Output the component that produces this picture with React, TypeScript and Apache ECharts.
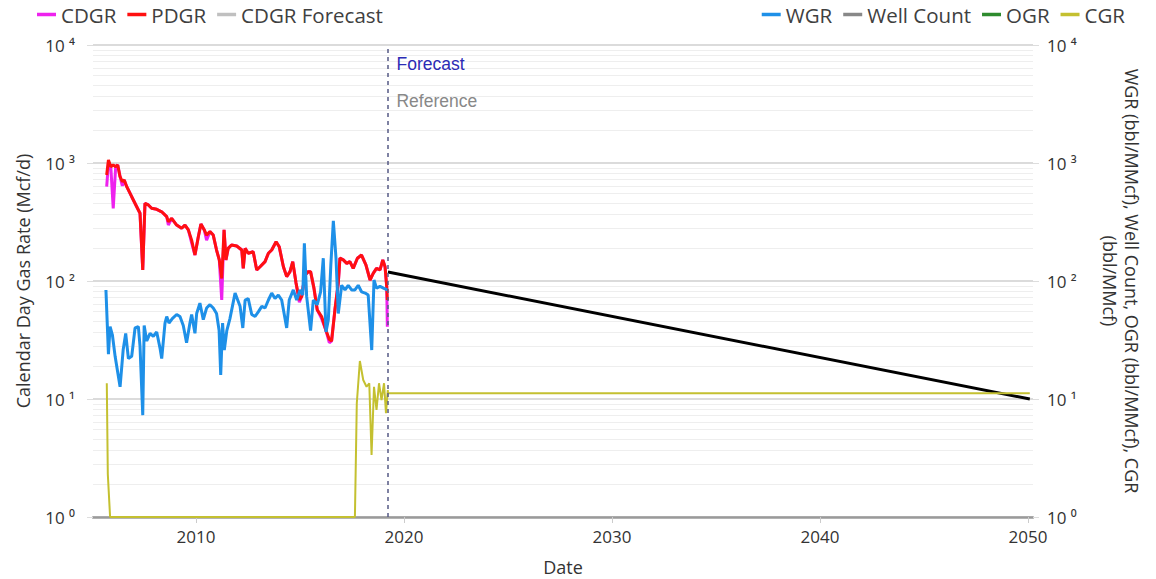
import React, { useEffect, useRef } from "react";
import * as echarts from "echarts";

// ---------- data ----------
const pdgrDates = [
  "2005-09-15","2005-10-16","2005-11-28","2006-01-08","2006-02-20","2006-03-28","2006-05-08","2006-06-17","2006-07-20","2006-09-02",
  "2006-11-28","2007-02-24","2007-04-23","2007-06-10","2007-07-19","2007-09-16","2007-11-13","2008-02-10","2008-05-08","2008-08-04",
  "2008-09-02","2008-10-30","2009-01-26","2009-04-23","2009-06-21","2009-08-19","2009-10-16","2009-12-13","2010-02-10","2010-03-28",
  "2010-05-26","2010-07-05","2010-09-02","2010-10-30","2010-12-27","2011-02-13","2011-03-28","2011-05-08","2011-06-10","2011-07-19",
  "2011-09-16","2011-12-16","2012-03-14","2012-04-09","2012-05-12","2012-07-05","2012-10-01","2012-12-02","2013-01-30","2013-04-27",
  "2013-06-25","2013-08-22","2013-11-07","2014-01-01","2014-03-15","2014-05-12","2014-07-09","2014-08-26","2014-10-23","2014-12-20",
  "2015-01-30","2015-03-28","2015-05-26","2015-07-05","2015-09-02","2015-10-30","2016-01-15","2016-04-01","2016-05-29","2016-07-08",
  "2016-09-05","2016-11-03","2016-12-02","2017-01-30","2017-04-01","2017-05-26","2017-07-23","2017-10-05","2017-12-16","2018-03-03",
  "2018-05-15","2018-07-09","2018-09-05","2018-11-06","2018-12-24","2019-02-02","2019-03-03","2019-03-14",
];
const pdgrValues = [
  791,1060,930,962,930,962,765,695,718,630,
  518,426,375,124,455,441,413,405,386,351,
  318,340,298,280,298,271,222,166,237,304,
  271,245,262,245,183,151,105,271,151,189,
  202,198,183,128,189,172,177,124,132,146,
  172,183,215,195,132,109,120,146,96,69,
  74,112,120,120,87,57,50,38,32,31,
  57,96,156,151,141,146,128,156,166,137,
  102,116,128,124,151,132,90,69,
];
const cdgrValues = [
  630,1000,900,413,930,962,765,640,718,630,
  518,426,375,124,455,441,413,405,386,351,
  298,340,298,280,298,271,210,166,237,304,
  271,222,262,245,183,151,69,271,151,189,
  202,198,183,128,189,172,177,124,132,146,
  172,183,215,195,132,109,120,146,96,66,
  74,112,120,120,87,57,48,38,30,31,
  57,96,156,151,141,146,128,156,166,137,
  102,116,128,124,151,132,90,41,
];

const wgrDates = [
  "2005-09-02","2005-10-16","2005-11-14","2005-12-24","2006-02-10","2006-05-08","2006-07-01","2006-08-15","2006-10-01","2006-11-28",
  "2007-01-26","2007-03-25","2007-04-23","2007-06-10","2007-07-05","2007-08-19","2007-10-16","2007-12-13","2008-02-10","2008-04-08",
  "2008-05-08","2008-07-05","2008-08-04","2008-09-13","2008-11-10","2009-01-26","2009-03-25","2009-05-22","2009-07-19","2009-09-16",
  "2009-10-16","2009-12-13","2010-01-12","2010-03-10","2010-05-08","2010-07-05","2010-09-02","2010-10-30","2010-12-27","2011-02-10",
  "2011-03-10","2011-04-12","2011-05-12","2011-06-25","2011-08-19","2011-11-17","2012-02-13","2012-04-01","2012-05-12","2012-07-05",
  "2012-09-05","2012-11-03","2013-01-01","2013-03-01","2013-04-27","2013-06-25","2013-08-22","2013-10-19","2013-12-16","2014-02-13",
  "2014-05-12","2014-06-25","2014-09-05","2014-11-03","2015-01-01","2015-02-18","2015-03-18","2015-04-27","2015-07-05","2015-08-22",
  "2015-10-30","2015-12-28","2016-02-13","2016-04-01","2016-05-12","2016-06-25","2016-08-08","2016-09-24","2016-11-03","2017-01-01",
  "2017-03-01","2017-04-27","2017-06-25","2017-08-22","2017-10-19","2017-12-16","2018-02-18","2018-04-12","2018-06-13","2018-07-23",
  "2018-09-05","2018-11-06","2019-01-04","2019-03-14",
];
const wgrValues = [
  84,24,41,35,23,12.7,26,36,22,23,
  40,41,28,7.3,42,31,36,34,37,27,
  22,44,50,44,48,52,50,42,30,44,
  52,36,53,65,47,59,63,59,53,38,
  16,44,26,38,48,79,61,40,69,71,
  52,50,55,61,59,69,79,71,76,69,
  40,69,84,69,84,76,209,74,38,69,
  63,81,156,37,47,137,324,156,53,92,
  84,92,84,84,92,81,79,76,26,102,
  87,90,87,84,
];

const cgrDates = [
  "2005-09-17","2005-10-05","2005-11-14","2017-08-22","2017-09-24","2017-11-17","2018-01-15","2018-03-14","2018-05-01","2018-06-10",
  "2018-07-23","2018-09-05","2018-10-19","2018-12-02","2019-01-15","2019-02-18","2019-03-22","2019-03-25","2050-02-01",
];
const cgrValues = [
  13.6,2.3,1,1,9.2,21,14.5,12.7,13.6,3.35,
  12.7,8.1,13.6,9.8,13.6,7.6,11.9,11.2,11.2,
];

const forecastDates = ["2019-03-25", "2050-02-01"];
const forecastValues = [119, 10];

const wellCountDates: string[] = [];
const wellCountValues: number[] = [];
const ogrDates: string[] = [];
const ogrValues: number[] = [];

const forecastStart = "2019-03-25";
const forecastLabelValue = 6900;
const referenceLabelValue = 3350;

const xMin = "2005-01-18";
const xMax = "2050-03-29";
const xTickYears = [2010, 2020, 2030, 2040, 2050];
const yMin = 1;
const yMax = 10000;

// ---------- helpers ----------
// date string -> decimal year (value axis)
const toYear = (s: string) => {
  const [y, m, d] = s.split("-").map(Number);
  const start = Date.UTC(y, 0, 1);
  const end = Date.UTC(y + 1, 0, 1);
  return y + (Date.UTC(y, m - 1, d) - start) / (end - start);
};
const pairs = (dates: string[], vals: number[]) => dates.map((d, i) => [toYear(d), vals[i]]);
const SUP = ["⁰", "¹", "²", "³", "⁴", "⁵"];
const logLabel = (v: number) => "10 " + SUP[Math.round(Math.log10(v))];

const FONT = "'Open Sans', 'Noto Sans', sans-serif";

export default function App() {
  const ref = useRef<HTMLDivElement>(null);

  useEffect(() => {
    document.body.style.margin = "0";
    if (!ref.current) return;
    const chart = echarts.init(ref.current, null, { renderer: "svg" });

    const yAxisCommon = {
      type: "log" as const,
      logBase: 10,
      min: yMin,
      max: yMax,
      axisLine: { show: false },
      axisTick: { show: true, length: 6, lineStyle: { color: "#dddddd" } },
      minorTick: { show: false, splitNumber: 10 },
      axisLabel: { formatter: logLabel, fontSize: 17, color: "#333", fontFamily: FONT },
      nameLocation: "middle" as const,
      nameTextStyle: { fontSize: 18, color: "#333", fontFamily: FONT, lineHeight: 22 },
    };

    const legendText = { fontSize: 20.5, color: "#404040", fontFamily: FONT };

    chart.setOption({
      animation: false,
      backgroundColor: "#ffffff",
      grid: { left: 93, right: 123, top: 45, bottom: 62, containLabel: false, outerBoundsMode: "none" },
      legend: [
        {
          left: 32,
          top: -1,
          icon: "rect",
          itemWidth: 19,
          itemHeight: 3.5,
          itemGap: 11,
          textStyle: legendText,
          data: [
            { name: "CDGR" },
            { name: "PDGR" },
            { name: "CDGR Forecast", itemStyle: { color: "#c0c0c0" } },
          ],
        },
        {
          right: 26,
          top: -1,
          icon: "rect",
          itemWidth: 19,
          itemHeight: 3.5,
          itemGap: 11,
          textStyle: legendText,
          data: [{ name: "WGR" }, { name: "Well Count" }, { name: "OGR" }, { name: "CGR" }],
        },
      ],
      xAxis: {
        type: "value",
        min: toYear(xMin),
        max: toYear(xMax),
        name: "Date",
        nameLocation: "middle",
        nameGap: 41,
        nameTextStyle: { fontSize: 18, color: "#333", fontFamily: FONT },
        axisLine: { show: true, onZero: false, lineStyle: { color: "#9a9a9a", width: 2.5 } },
        axisTick: { show: true, customValues: xTickYears, length: 6, lineStyle: { color: "#cccccc" } },
        axisLabel: {
          customValues: xTickYears,
          formatter: (v: number) => String(Math.round(v)),
          fontSize: 17,
          color: "#333",
          fontFamily: FONT,
          margin: 11,
        },
        splitLine: { show: false },
      },
      yAxis: [
        {
          ...yAxisCommon,
          position: "left",
          name: "Calendar Day Gas Rate (Mcf/d)",
          nameGap: 58,
          axisLabel: { ...yAxisCommon.axisLabel, margin: 18 },
          splitLine: { show: true, lineStyle: { color: "#cfcfcf", width: 1.5 } },
          minorSplitLine: { show: true, lineStyle: { color: "#eeeeee", width: 1 } },
        },
        {
          ...yAxisCommon,
          position: "right",
          name: "WGR (bbl/MMcf), Well Count, OGR (bbl/MMcf), CGR\n(bbl/MMcf)",
          nameRotate: -90,
          nameGap: 66,
          axisLabel: { ...yAxisCommon.axisLabel, margin: 14 },
          splitLine: { show: false },
          minorSplitLine: { show: false },
        },
      ],
      series: [
        {
          name: "CDGR",
          type: "line",
          yAxisIndex: 0,
          symbol: "none",
          color: "#ee22ee",
          lineStyle: { width: 3, color: "#ee22ee" },
          data: pairs(pdgrDates, cdgrValues),
        },
        {
          name: "PDGR",
          type: "line",
          yAxisIndex: 0,
          symbol: "none",
          color: "#ff1010",
          lineStyle: { width: 3, color: "#ff1010" },
          data: pairs(pdgrDates, pdgrValues),
        },
        {
          name: "CDGR Forecast",
          type: "line",
          yAxisIndex: 0,
          symbol: "none",
          color: "#000000",
          lineStyle: { width: 3, color: "#000000" },
          data: pairs(forecastDates, forecastValues),
          markLine: {
            silent: true,
            symbol: "none",
            label: { show: false },
            lineStyle: { type: [4, 4], color: "#555a85", width: 1.5 },
            data: [{ xAxis: toYear(forecastStart) }],
          },
          markPoint: {
            silent: true,
            symbol: "circle",
            symbolSize: 1,
            itemStyle: { color: "rgba(0,0,0,0)" },
            data: [
              {
                name: "Forecast",
                coord: [toYear(forecastStart), forecastLabelValue],
                label: {
                  show: true,
                  position: "right",
                  distance: 8,
                  formatter: "{b}",
                  color: "#2b2bb5",
                  fontSize: 17.5,
                  fontFamily: "'Liberation Sans', Arial, sans-serif",
                },
              },
              {
                name: "Reference",
                coord: [toYear(forecastStart), referenceLabelValue],
                label: {
                  show: true,
                  position: "right",
                  distance: 8,
                  formatter: "{b}",
                  color: "#888888",
                  fontSize: 17.5,
                  fontFamily: "'Liberation Sans', Arial, sans-serif",
                },
              },
            ],
          },
        },
        {
          name: "WGR",
          type: "line",
          yAxisIndex: 1,
          symbol: "none",
          color: "#1e90e8",
          lineStyle: { width: 3, color: "#1e90e8" },
          data: pairs(wgrDates, wgrValues),
        },
        {
          name: "Well Count",
          type: "line",
          yAxisIndex: 1,
          symbol: "none",
          color: "#888888",
          lineStyle: { width: 3, color: "#888888" },
          data: pairs(wellCountDates, wellCountValues),
        },
        {
          name: "OGR",
          type: "line",
          yAxisIndex: 1,
          symbol: "none",
          color: "#2e8b2e",
          lineStyle: { width: 3, color: "#2e8b2e" },
          data: pairs(ogrDates, ogrValues),
        },
        {
          name: "CGR",
          type: "line",
          yAxisIndex: 1,
          symbol: "none",
          color: "#c4c030",
          lineStyle: { width: 2, color: "#c4c030" },
          data: pairs(cgrDates, cgrValues),
        },
      ],
    });

    return () => chart.dispose();
  }, []);

  return <div ref={ref} style={{ width: 1156, height: 579 }} />;
}
